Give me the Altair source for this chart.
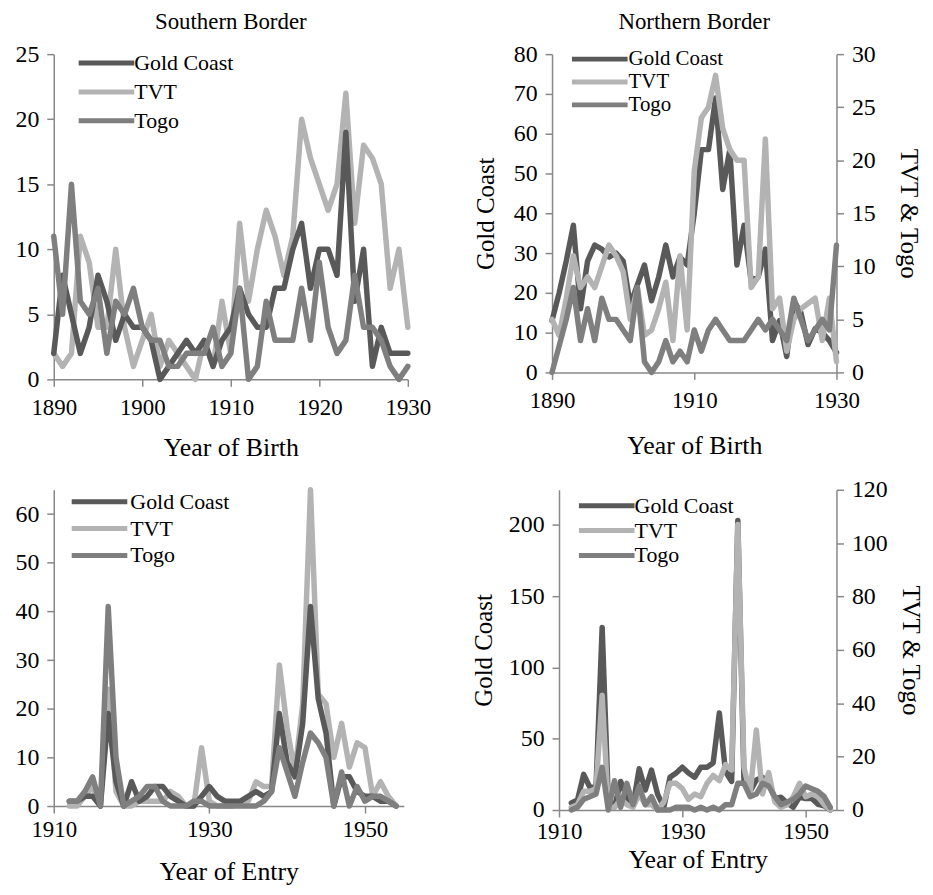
import altair as alt
import pandas as pd

FONT = "Liberation Serif"
SERIES = ["Gold Coast", "TVT", "Togo"]
COLORS = ["#595959", "#b3b3b3", "#7f7f7f"]
AXIS_GRAY = "#888888"

# ---------------- data ----------------
years_birth = list(range(1890, 1931))
years_entry = list(range(1912, 1955))

south_birth_gc = [2, 8, 5, 2, 4, 8, 6, 3, 5, 4,
                  4, 3, 0, 1, 2, 3, 2, 3, 1, 3,
                  4, 7, 5, 4, 4, 7, 7, 10, 12, 7,
                  10, 10, 8, 19, 6, 10, 1, 4, 2, 2,
                  2]
south_birth_tvt = [2, 1, 2, 11, 9, 4, 4, 10, 4, 1,
                   3, 5, 1, 3, 2, 1, 0, 3, 1, 6,
                   2, 12, 6, 10, 13, 11, 8, 11, 20, 17,
                   15, 13, 15, 22, 12, 18, 17, 15, 7, 10,
                   4]
south_birth_togo = [11, 5, 15, 6, 5, 7, 2, 6, 5, 7,
                    4, 3, 3, 1, 1, 2, 2, 2, 4, 1,
                    2, 7, 0, 1, 6, 3, 3, 3, 7, 3,
                    9, 4, 2, 3, 8, 4, 4, 3, 1, 0,
                    1]

north_birth_gc = [13, 20, 28, 37, 16, 28, 32, 31, 29, 30,
                  28, 17, 22, 27, 18, 24, 32, 24, 29, 27,
                  40, 56, 56, 69, 46, 56, 27, 37, 23, 24,
                  31, 8, 13, 4, 18, 15, 7, 11, 10, 8,
                  5]
north_birth_tvt = [5, 3.5, 7, 11, 8, 9, 8, 10, 12, 11,
                   9.5, 5, 8, 3.5, 4, 6, 8.5, 3, 11, 4,
                   19, 24, 25, 28, 23, 21, 20, 20, 8, 9,
                   22, 6, 7, 2, 5, 6, 6.5, 7, 3, 7,
                   1]
north_birth_togo = [0, 2.5, 5, 8, 3, 6, 3, 7, 5, 5,
                    4, 3, 8, 1, 0, 1, 3, 1, 2, 1,
                    4, 2, 4, 5, 4, 3, 3, 3, 4, 5,
                    4, 5, 4, 3, 7, 5, 3, 4, 5, 4,
                    12]

south_entry_gc = [1, 1, 2, 2, 0, 19, 5, 0, 5, 1,
                  2, 4, 4, 2, 1, 0, 0, 2, 4, 2,
                  1, 1, 1, 2, 3, 2, 3, 19, 9, 6,
                  17, 41, 22, 15, 0, 6, 6, 3, 2, 2,
                  1, 1, 0]
south_entry_tvt = [0, 0, 2, 4, 0, 24, 3, 0, 0, 1,
                   1, 1, 1, 3, 2, 0, 0, 12, 1, 0,
                   0, 0, 1, 1, 5, 4, 4, 29, 16, 7,
                   21, 65, 23, 21, 10, 17, 8, 13, 12, 2,
                   5, 2, 0]
south_entry_togo = [1, 1, 3, 6, 0, 41, 10, 0, 1, 2,
                    4, 4, 1, 0, 0, 0, 1, 1, 0, 0,
                    0, 0, 0, 0, 0, 1, 3, 12, 7, 2,
                    9, 15, 13, 10, 0, 7, 0, 4, 1, 2,
                    2, 1, 0]

north_entry_gc = [5, 7, 25, 16, 16, 128, 7, 2, 20, 9,
                  3, 29, 14, 28, 11, 2, 23, 26, 30, 26,
                  23, 30, 30, 33, 68, 27, 20, 203, 20, 13,
                  21, 23, 19, 8, 9, 5, 2, 9, 8, 8,
                  4, 3, 0]
north_entry_tvt = [1, 2, 7, 7, 8, 43, 1, 1, 4, 2,
                   1, 6, 2, 2, 0, 3, 10, 10, 8, 4,
                   6, 5, 10, 13, 11, 17, 15, 107, 16, 6,
                   30, 6, 14, 3, 1, 2, 5, 10, 5, 6,
                   5, 2, 0]
north_entry_togo = [0, 1, 4, 5, 6, 16, 0, 11, 1, 10,
                    2, 9, 2, 5, 0, 0, 0, 1, 1, 1,
                    0, 1, 0, 1, 0, 2, 2, 10, 10, 5,
                    6, 10, 9, 5, 2, 3, 4, 6, 9, 8,
                    7, 5, 1]


def long_df(years, gc, tvt, togo):
    rows = []
    for name, vals in zip(SERIES, [gc, tvt, togo]):
        for y, v in zip(years, vals):
            rows.append({"year": y, "series": name, "value": v})
    return pd.DataFrame(rows)


df_sb = long_df(years_birth, south_birth_gc, south_birth_tvt, south_birth_togo)
df_nb = long_df(years_birth, north_birth_gc, north_birth_tvt, north_birth_togo)
df_se = long_df(years_entry, south_entry_gc, south_entry_tvt, south_entry_togo)
df_ne = long_df(years_entry, north_entry_gc, north_entry_tvt, north_entry_togo)

TICK = 7
XLABEL_SIZE = 23
YLABEL_SIZE = 24


def x_enc(domain, ticks, title, lpad, tpad):
    return alt.X("year:Q",
                 scale=alt.Scale(domain=domain, nice=False, zero=False),
                 axis=alt.Axis(values=ticks, format="d", grid=False, title=title,
                               tickSize=TICK, tickColor=AXIS_GRAY, tickWidth=1.5,
                               domainColor=AXIS_GRAY, domainWidth=1.5,
                               labelFont=FONT, labelFontSize=XLABEL_SIZE, labelColor="black",
                               labelFlush=False, labelOverlap=False, labelPadding=lpad,
                               titleFont=FONT, titleFontSize=26, titleFontWeight="normal",
                               titleColor="black", titlePadding=tpad))


def y_enc(domain, ticks, orient="left", title=None, tpad=10):
    if title is not None:
        kw = dict(title=title, titleFont=FONT, titleFontSize=25, titleFontWeight="normal",
                  titleColor="black", titlePadding=tpad)
    else:
        kw = dict(title=None)
    return alt.Y("value:Q",
                 scale=alt.Scale(domain=domain, nice=False, zero=True),
                 axis=alt.Axis(values=ticks, orient=orient, grid=False,
                               tickSize=TICK, tickColor=AXIS_GRAY, tickWidth=1.5,
                               domainColor=AXIS_GRAY, domainWidth=1.5,
                               labelFont=FONT, labelFontSize=YLABEL_SIZE, labelColor="black",
                               labelFlush=False, labelOverlap=False, labelPadding=8, **kw))


def color_enc(lx, ly, rowpad, size=500, half=2.5, font=22, loff=14):
    return alt.Color("series:N",
                     scale=alt.Scale(domain=SERIES, range=COLORS),
                     legend=alt.Legend(title=None, orient="none", legendX=lx, legendY=ly,
                                       symbolType=f"M-{half},0H{half}", symbolSize=size,
                                       symbolStrokeWidth=5, labelFont=FONT,
                                       labelFontSize=font, labelColor="black",
                                       labelOffset=loff, rowPadding=rowpad, padding=0))


def line(df, series, x, y, color):
    return (alt.Chart(df)
            .transform_filter(alt.datum.series == series)
            .mark_line(strokeWidth=5.5, strokeCap="round", strokeJoin="round")
            .encode(x=x, y=y, color=color))


def title_params(text):
    return alt.TitleParams(text=text, font=FONT, fontSize=23, fontWeight="normal",
                           color="black", anchor="middle", offset=8)


# Panel 1: Southern border, year of birth
x1 = x_enc([1890, 1930], [1890, 1900, 1910, 1920, 1930], "Year of Birth", 10, 16)
y1 = y_enc([0, 25], [0, 5, 10, 15, 20, 25])
c1 = color_enc(39, -5, 4)
p1 = alt.layer(line(df_sb, "TVT", x1, y1, c1),
               line(df_sb, "Gold Coast", x1, y1, c1),
               line(df_sb, "Togo", x1, y1, c1)).properties(
    width=356, height=327, title=title_params("Southern Border"))

# Panel 2: Northern border, year of birth (dual axis)
x2 = x_enc([1890, 1930], [1890, 1910, 1930], "Year of Birth", 10, 21)
y2l = y_enc([0, 80], list(range(0, 81, 10)), "left", "Gold Coast", 15)
y2r = y_enc([0, 30], list(range(0, 31, 5)), "right", "TVT & Togo", 20)
c2 = color_enc(35, -8, 0, size=420, half=2.73, font=21, loff=16)
p2 = alt.layer(
    line(df_nb, "Gold Coast", x2, y2l, c2),
    alt.layer(line(df_nb, "TVT", x2, y2r, c2), line(df_nb, "Togo", x2, y2r, c2)),
).resolve_scale(y="independent").properties(
    width=286, height=320, title=title_params("Northern Border"))

# Panel 3: Southern border, year of entry
x3 = x_enc([1910, 1955], [1910, 1930, 1950], "Year of Entry", 6, 17)
y3 = y_enc([0, 65], list(range(0, 61, 10)))
c3 = color_enc(32, -2, 2, loff=17)
p3 = alt.layer(line(df_se, "TVT", x3, y3, c3),
               line(df_se, "Gold Coast", x3, y3, c3),
               line(df_se, "Togo", x3, y3, c3)).properties(width=352, height=318)

# Panel 4: Northern border, year of entry (dual axis)
x4 = x_enc([1910, 1955], [1910, 1930, 1950], "Year of Entry", 4, 3)
y4l = y_enc([0, 224.5], [0, 50, 100, 150, 200], "left", "Gold Coast", 12)
y4r = y_enc([0, 120], list(range(0, 121, 20)), "right", "TVT & Togo", 10)
c4 = color_enc(34, 2, 0)
p4 = alt.layer(
    line(df_ne, "Gold Coast", x4, y4l, c4),
    alt.layer(line(df_ne, "TVT", x4, y4r, c4), line(df_ne, "Togo", x4, y4r, c4)),
).resolve_scale(y="independent").properties(width=279, height=322)

row1 = alt.hconcat(p1, p2, spacing=43).resolve_scale(color="independent").resolve_legend(color="independent")
row2 = alt.hconcat(p3, p4, spacing=68).resolve_scale(color="independent").resolve_legend(color="independent")

chart = (alt.vconcat(row1, row2, spacing=17)
         .resolve_scale(color="independent")
         .resolve_legend(color="independent")
         .properties(padding={"left": 7, "top": 1, "right": 3, "bottom": 0},
                     background="white")
         .configure_view(stroke=None))

chart.save("out.html", embed_options={"renderer": "svg", "actions": False})
